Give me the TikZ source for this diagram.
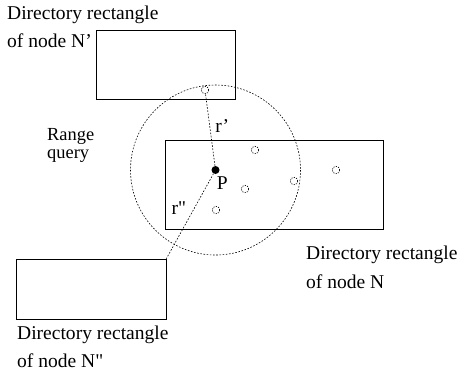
\documentclass[tikz,border=0pt]{standalone}
\usepackage{fontspec}
\setmainfont{Liberation Serif}[Ligatures=TeXOff]
\usetikzlibrary{positioning}

\begin{document}
\begin{tikzpicture}[x=1bp, y=-1bp,
  every node/.style={font=\fontsize{19.6}{28.5}\selectfont},
  dirrect/.style={draw, line width=0.7bp, inner sep=0pt},
  rangeline/.style={line width=0.6bp, dash pattern=on 1.6bp off 1.6bp},
  entry/.style={circle, draw, line width=0.6bp, dash pattern=on 1.2bp off 1.2bp,
    minimum size=7.5bp, inner sep=0pt},
  caption/.style={align=left, inner sep=0pt, anchor=base west}]
  \useasboundingbox (0,0) rectangle (458,381);
  % directory rectangles
  \node[dirrect, minimum width=139bp, minimum height=69bp] (rNa) at (165.5,64.5) {};
  \node[dirrect, minimum width=217.5bp, minimum height=88.5bp] (rN) at (274.25,184.75) {};
  \node[dirrect, minimum width=150bp, minimum height=60bp] (rNb) at (91,289) {};
  % query point and range
  \node[circle, fill, inner sep=0pt, minimum size=8bp] (P) at (215.5,170) {};
  \node[below right=0bp and -5bp of P] (Plab) {P};
  \draw[rangeline] (P) circle[radius=85];
  % entries
  \node[entry] (q1) at (205,90) {};
  \node[entry] (q2) at (255,150) {};
  \node[entry] (q3) at (294,181) {};
  \node[entry] (q4) at (245,189) {};
  \node[entry] (q5) at (216,210) {};
  \node[entry] (q6) at (336,170) {};
  \draw[rangeline] (P) -- node[pos=0.55, right=2bp] {r’} (q1);
  \draw[rangeline] (P) -- node[pos=0.4, left=5bp] {r"} (rNb.north east);
  % captions
  \node[caption] (capNa) at (7,47.5) {Directory rectangle\\of node N’};
  \node[caption, font=\fontsize{18.5}{18}\selectfont] (capQ) at (47,158.5) {Range\\query};
  \node[caption] (capN) at (306,288) {Directory rectangle\\of node N};
  \node[caption] (capNb) at (17,367.5) {Directory rectangle\\of node N"};
\end{tikzpicture}
\end{document}
